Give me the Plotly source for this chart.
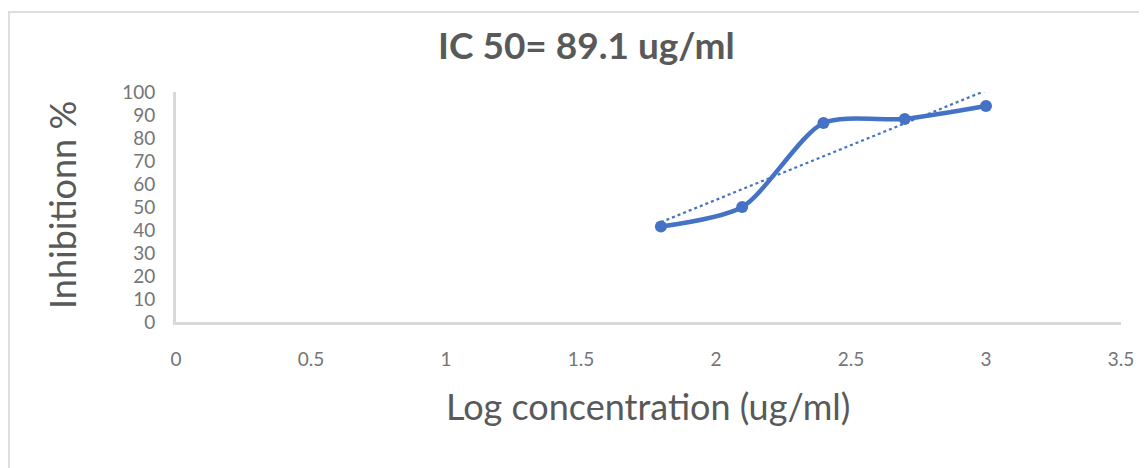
import numpy as np
import plotly.graph_objects as go

# Data
log_conc = [1.796, 2.097, 2.398, 2.699, 3.0]
inhibition = [41.5, 50.0, 86.5, 88.3, 93.9]
x_ticks = [0, 0.5, 1, 1.5, 2, 2.5, 3, 3.5]
x_tick_labels = ["0", "0.5", "1", "1.5", "2", "2.5", "3", "3.5"]
y_ticks = [0, 10, 20, 30, 40, 50, 60, 70, 80, 90, 100]

title_text = "IC 50= 89.1 ug/ml"
x_title = "Log concentration (ug/ml)"
y_title = "Inhibitionn %"

blue = "#4472C4"
gray_text = "#595959"

# linear trendline (least squares) from the data
slope, intercept = np.polyfit(log_conc, inhibition, 1)
trend_x = [min(log_conc), max(log_conc)]
trend_y = [slope * v + intercept for v in trend_x]

fig = go.Figure()
fig.add_trace(go.Scatter(
    x=log_conc, y=inhibition, mode="lines+markers",
    line=dict(color=blue, width=4.5, shape="spline", smoothing=0.75),
    marker=dict(color=blue, size=12),
    showlegend=False, hoverinfo="x+y"))
fig.add_trace(go.Scatter(
    x=trend_x, y=trend_y, mode="lines",
    line=dict(color=blue, width=2.2, dash="dot"),
    showlegend=False, hoverinfo="skip"))

OFF = 8  # page body margin
W, H = 1147 - OFF, 468 - OFF
# desired plot area in screen px
PL, PR, PT, PB = 176, 1121, 92, 322
L, T = PL - OFF, PT - OFF
R = (OFF + W) - PR
B = (OFF + H) - PB
pw, ph = PR - PL, PB - PT

def px_to_paper_x(px):
    return (px - PL) / pw

def px_to_paper_y(py):
    return (PB - py) / ph

font_family = "Lato, 'Open Sans', sans-serif"

fig.update_layout(
    width=W, height=H,
    margin=dict(l=L, r=R, t=T, b=B),
    paper_bgcolor="white", plot_bgcolor="white",
    font=dict(family=font_family, color=gray_text),
    xaxis=dict(
        range=[0, 3.5], tickvals=x_ticks, ticktext=x_tick_labels,
        showgrid=False, zeroline=False, showline=True,
        linecolor="#d9d9d9", linewidth=3, ticks="",
        ticklabelstandoff=18,
        tickfont=dict(size=19, color="#757575", family=font_family),
    ),
    yaxis=dict(
        range=[0, 100], tickvals=y_ticks,
        showgrid=False, zeroline=False, showline=True,
        linecolor="#d9d9d9", linewidth=3, ticks="",
        ticklabelstandoff=14,
        tickfont=dict(size=19, color="#757575", family=font_family),
    ),
    annotations=[
        dict(text="<b>" + title_text + "</b>", xref="paper", yref="paper",
             x=px_to_paper_x(586), y=px_to_paper_y(44), xanchor="center", yanchor="middle",
             showarrow=False, font=dict(size=37, color=gray_text, family=font_family)),
        dict(text=x_title, xref="paper", yref="paper",
             x=px_to_paper_x(648), y=px_to_paper_y(406), xanchor="center", yanchor="middle",
             showarrow=False, font=dict(size=36, color=gray_text, family=font_family)),
        dict(text=y_title, xref="paper", yref="paper", textangle=-90,
             x=px_to_paper_x(62), y=px_to_paper_y(205), xanchor="center", yanchor="middle",
             showarrow=False, font=dict(size=36, color=gray_text, family=font_family)),
    ],
    shapes=[
        dict(type="line", xref="paper", yref="paper",
             x0=px_to_paper_x(8), x1=px_to_paper_x(1160),
             y0=px_to_paper_y(12), y1=px_to_paper_y(12),
             line=dict(color="#dedede", width=2)),
        dict(type="line", xref="paper", yref="paper",
             x0=px_to_paper_x(9), x1=px_to_paper_x(9),
             y0=px_to_paper_y(12), y1=px_to_paper_y(480),
             line=dict(color="#dedede", width=2)),
    ],
)

fig.write_html("out.html")
